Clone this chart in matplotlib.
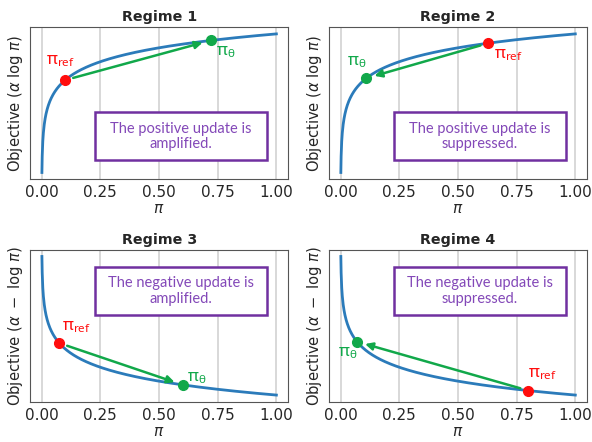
import matplotlib
matplotlib.use("Agg")
import matplotlib.pyplot as plt
from matplotlib.patches import Rectangle
import numpy as np

# data
titles = ["Regime 1", "Regime 2", "Regime 3", "Regime 4"]
signs = [1, 1, -1, -1]                 # objective = sign * log(pi)
pi_ref = [0.10, 0.63, 0.075, 0.80]
pi_theta = [0.72, 0.11, 0.60, 0.07]
messages = [
    "The positive update is\namplified.",
    "The positive update is\nsuppressed.",
    "The negative update is\namplified.",
    "The negative update is\nsuppressed.",
]
ylabels = [r"Objective ($\alpha$ log $\pi$)", r"Objective ($\alpha$ log $\pi$)",
           r"Objective ($\alpha\ -$ log $\pi$)", r"Objective ($\alpha\ -$ log $\pi$)"]
xticks = [0.0, 0.25, 0.5, 0.75, 1.0]
pi_grid = np.linspace(0.001, 1.0, 800)

# label offsets (points) for pi_ref / pi_theta, and box position (axes coords)
ref_offsets = [(-14, 8), (4, -14), (2, 6), (0, 6)]
theta_offsets = [(4, -14), (-14, 6), (3, -1), (-14, -14)]
box_y = [0.125, 0.125, 0.569, 0.569]

RED = "#ff0d0d"
GREEN = "#11a84a"
PURPLE = "#7030a0"
TEXT_PURPLE = "#8348b8"
BLUE = "#2b7bba"
INK = "#262626"

plt.rcParams["font.size"] = 10
plt.rcParams["text.color"] = INK
plt.rcParams["axes.labelcolor"] = INK
plt.rcParams["xtick.color"] = INK

fig, axes = plt.subplots(2, 2, figsize=(5.92, 4.42), dpi=100)
fig.subplots_adjust(left=0.051, right=0.9916, top=0.939, bottom=0.0905,
                    wspace=0.159, hspace=0.46)

for i, ax in enumerate(axes.flat):
    obj = signs[i] * np.log(pi_grid)
    ax.plot(pi_grid, obj, color=BLUE, lw=2, zorder=2)

    y_ref = signs[i] * np.log(pi_ref[i])
    y_th = signs[i] * np.log(pi_theta[i])

    ax.annotate("", xy=(pi_theta[i], y_th), xytext=(pi_ref[i], y_ref),
                arrowprops=dict(arrowstyle="-|>", color=GREEN, lw=1.8,
                                shrinkA=6, shrinkB=6, mutation_scale=11),
                zorder=3)
    ax.plot(pi_ref[i], y_ref, "o", color=RED, ms=7, zorder=4)
    ax.plot(pi_theta[i], y_th, "o", color=GREEN, ms=7, zorder=4)

    ax.annotate(r"$\mathregular{π_{ref}}$", (pi_ref[i], y_ref),
                xytext=ref_offsets[i], textcoords="offset points",
                color=RED, fontsize=12, family="Noto Sans",
                ha="left", va="bottom")
    ax.annotate(r"$\mathregular{π_{θ}}$", (pi_theta[i], y_th),
                xytext=theta_offsets[i], textcoords="offset points",
                color=GREEN, fontsize=12, family="Noto Sans",
                ha="left", va="bottom")

    ax.add_patch(Rectangle((0.252, box_y[i]), 0.667, 0.315,
                           transform=ax.transAxes, fill=True, fc="white",
                           ec=PURPLE, lw=1.8, zorder=5))
    ax.text(0.5855, box_y[i] + 0.1575, messages[i], transform=ax.transAxes,
            ha="center", va="center", color=TEXT_PURPLE, fontsize=10.5,
            family=["Lato", "DejaVu Sans"], linespacing=1.15, zorder=6)

    ax.set_title(titles[i], fontweight="bold", fontsize=10.3, pad=4)
    ax.set_xticks(xticks)
    ax.set_yticks([])
    ax.set_xlabel(r"$\pi$", labelpad=1, fontsize=11)
    ax.set_ylabel(ylabels[i], labelpad=4, fontsize=10.6)
    ax.tick_params(axis="x", length=0, pad=4, labelsize=11)
    ax.grid(axis="x", color="#d6d6d6", lw=1.3)
    ax.set_axisbelow(True)
    for s in ax.spines.values():
        s.set_color("#555555")
        s.set_linewidth(0.8)

fig.savefig("out.png", dpi=100)
